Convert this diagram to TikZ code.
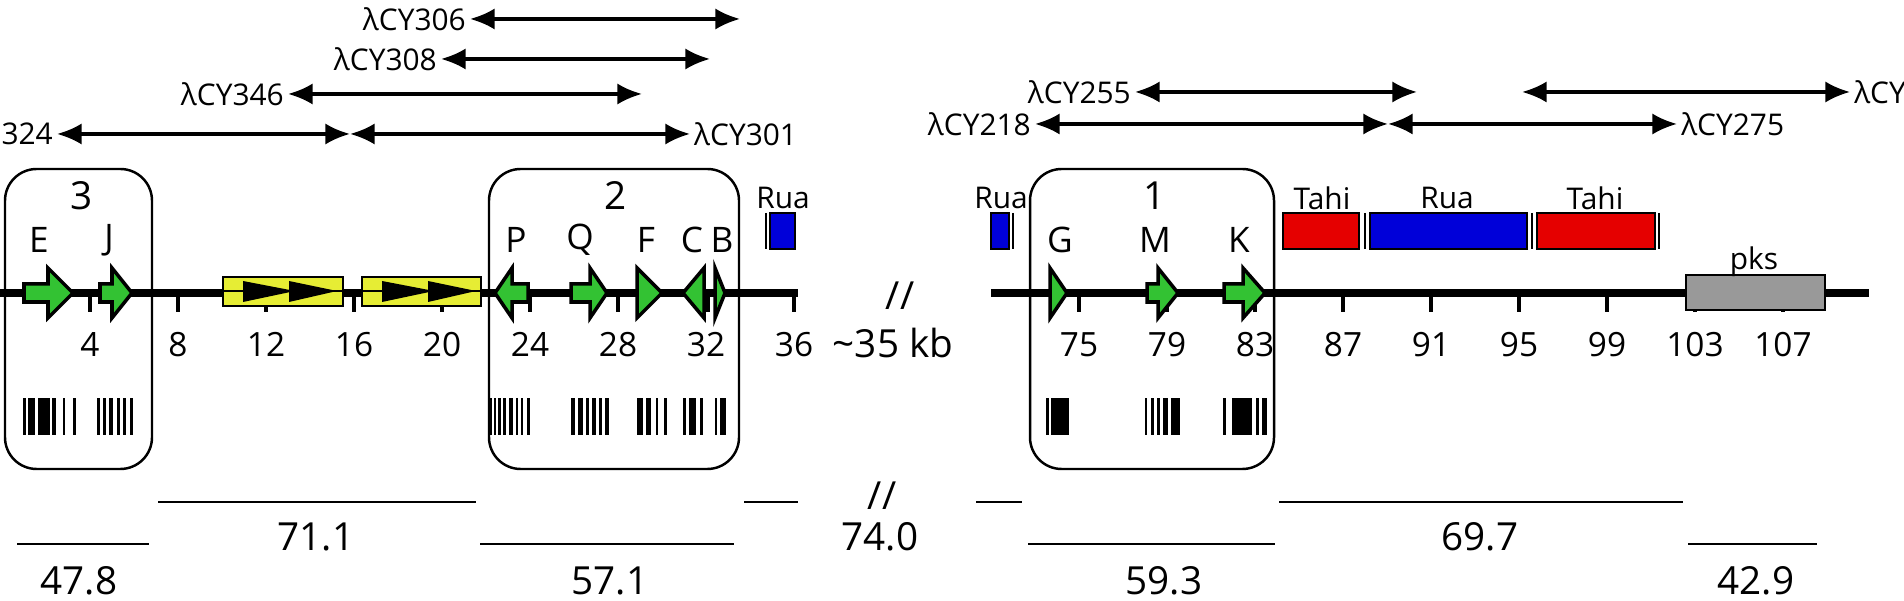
\documentclass[tikz,border=0pt]{standalone}
\usepackage{fontspec}
\setmainfont{Open Sans}
\usetikzlibrary{arrows.meta}
\begin{document}
\tikzset{
  gene/.style={draw=black, fill=green!70!black!80, line width=1pt, line join=miter},
  span/.style={{Latex[length=7pt,width=6pt]}-{Latex[length=7pt,width=6pt]}, line width=0.9pt},
  clone/.style={font=\fontsize{8.5}{9}\selectfont, inner sep=1pt},
  tick/.style={line width=1pt},
  kb/.style={font=\fontsize{9.5}{10}\selectfont, anchor=north},
  gname/.style={font=\fontsize{10}{11}\selectfont},
  block/.style={draw=black, line width=0.8pt},
  region/.style={draw=black, line width=0.7pt, rounded corners=9pt},
  ident/.style={line width=0.7pt},
  pct/.style={font=\fontsize{11}{12}\selectfont}
}
\newcommand{\gene}[3]{% start, head base, tip
  \draw[gene] (#1,284) -- (#2,284) -- (#2,268) -- (#3,293) -- (#2,318) -- (#2,302) -- (#1,302) -- cycle;}
\newcommand{\tri}[2]{\draw[gene] (#1,268) -- (#2,293) -- (#1,318) -- cycle;}
\newcommand{\bars}[1]{\foreach \x/\w in {#1} \fill (\x,398) rectangle ++(\w,37);}
\begin{tikzpicture}[x=0.01cm, y=-0.01cm]
  \useasboundingbox (0,0) rectangle (1904,601);

  % Clones
    \node[clone, anchor=east] (c306) at (470,19) {λCY306};
    \coordinate (e306) at (740,19);
    \draw[span] (c306) -- (e306);
    \node[clone, anchor=east] (c308) at (441,59) {λCY308};
    \coordinate (e308) at (710,59);
    \draw[span] (c308) -- (e308);
    \node[clone, anchor=east] (c346) at (288,94) {λCY346};
    \coordinate (e346) at (642,94);
    \draw[span] (c346) -- (e346);
    \node[clone, anchor=east] (c324) at (57,134) {324};
    \coordinate (m16) at (350,134);
    \node[clone, anchor=west] (c301) at (690,134) {λCY301};
    \draw[span] (c324) -- (m16);
    \draw[span] (m16) -- (c301);
    \node[clone, anchor=east] (c255) at (1135,92) {λCY255};
    \coordinate (e255) at (1417,92);
    \draw[span] (c255) -- (e255);
    \coordinate (s2xx) at (1522,92);
    \node[clone, anchor=west] (c2xx) at (1850,92) {λCY};
    \draw[span] (s2xx) -- (c2xx);
    \node[clone, anchor=east] (c218) at (1035,124) {λCY218};
    \coordinate (m88) at (1388,124);
    \node[clone, anchor=west] (c275) at (1677,124) {λCY275};
    \draw[span] (c218) -- (m88);
    \draw[span] (m88) -- (c275);

  % Regions
    \draw[region] (5,169) rectangle (152,469);
    \draw[region] (489,169) rectangle (739,469);
    \draw[region] (1030,169) rectangle (1274,469);
    \node[pct] (r3) at (82,196) {3};
    \node[pct] (r2) at (616,196) {2};
    \node[pct] (r1) at (1155,196) {1};

  % Backbone and ticks
    \draw[line width=2.2pt] (0,293) -- (798,293);
    \draw[line width=2.2pt] (991,293) -- (1869,293);
    \foreach \k in {4,8,...,36} {
      \draw[tick] ({22*\k+2},293) -- ({22*\k+2},312);
      \node[kb] at ({22*\k+2},320) {\k};
    }
    \foreach \k in {75,79,...,107} {
      \draw[tick] ({1255+22*(\k-83)},293) -- ({1255+22*(\k-83)},312);
      \node[kb] at ({1255+22*(\k-83)},320) {\k};
    }
    \draw[tick] (708,293) -- (708,312);
    \node[pct] (brk) at (900,296) {//};
    \node[pct] (gap) at (893,343) {\textasciitilde 35 kb};

  % Transposon blocks
    \foreach \a/\b in {223/343, 362/481} {
      \draw[block, fill=yellow!80!white!90!green] (\a,277) rectangle (\b,306);
      \draw[line width=0.5pt] (\a,291) -- (\b,291);
      \fill ({\a+20},281) -- ({\a+72},291) -- ({\a+20},302) -- cycle;
      \fill ({\a+66},281) -- ({\a+114},291) -- ({\a+66},302) -- cycle;
    }

  % Repeats
    \draw[block, fill=blue!85!black] (770,213) rectangle (795,249);
    \draw[line width=0.8pt] (766,213) -- (766,249);
    \draw[block, fill=blue!85!black] (991,213) rectangle (1009,249);
    \draw[line width=0.8pt] (1013,213) -- (1013,249);
    \draw[block, fill=red!90!black] (1283,213) rectangle (1359,249);
    \draw[line width=0.8pt] (1365,213) -- (1365,249);
    \draw[block, fill=blue!85!black] (1370,213) rectangle (1527,249);
    \draw[line width=0.8pt] (1532,213) -- (1532,249);
    \draw[block, fill=red!90!black] (1537,213) rectangle (1655,249);
    \draw[line width=0.8pt] (1659,213) -- (1659,249);
    \node[clone] (rua1) at (783,198) {Rua};
    \node[clone] (rua2) at (1001,198) {Rua};
    \node[clone] (tahi1) at (1322,198) {Tahi};
    \node[clone] (rua3) at (1447,198) {Rua};
    \node[clone] (tahi2) at (1595,198) {Tahi};
    \draw[block, fill=gray!80] (1686,275) rectangle (1825,310);
    \node[clone] (pks) at (1754,262) {pks};

  % Genes
    \gene{24}{48}{73}
    \gene{100}{112}{132}
    \gene{528}{512}{495}
    \gene{571}{590}{607}
    \tri{637}{662}
    \tri{704}{683}
    \tri{715}{725}
    \tri{1050}{1067}
    \gene{1147}{1158}{1178}
    \gene{1224}{1243}{1265}
    \foreach \g/\x in {E/39, J/109, P/516, Q/580, F/646, C/692, B/722, G/1060, M/1155, K/1239}
      \node[gname] (g\g) at (\x,240) {\g};

  % Bars
    \bars{23/3, 28/7, 38/12, 52/4, 63/2, 73/3}
    \bars{97/3, 103/3, 109/4, 117/3, 123/3, 130/3}
    \bars{490/2, 494/2, 498/3, 503/3, 509/4, 516/2, 521/2, 527/3}
    \bars{571/4, 578/5, 586/3, 592/4, 599/3, 605/4}
    \bars{637/6, 646/5, 656/2, 664/3}
    \bars{683/3, 689/7, 700/3}
    \bars{715/2, 720/6}
    \bars{1046/3, 1051/18}
    \bars{1145/2, 1151/3, 1157/3, 1163/5, 1171/9}
    \bars{1223/3, 1232/20, 1256/3, 1262/5}

  % Identity
    \draw[ident] (158,502) -- (476,502);
    \draw[ident] (744,502) -- (798,502);
    \draw[ident] (976,502) -- (1022,502);
    \draw[ident] (1279,502) -- (1683,502);
    \draw[ident] (17,544) -- (149,544);
    \draw[ident] (480,544) -- (734,544);
    \draw[ident] (1028,544) -- (1275,544);
    \draw[ident] (1688,544) -- (1817,544);
    \node[pct] (brk2) at (882,496) {//};
    \node[pct] (p711) at (316,537) {71.1};
    \node[pct] (p740) at (880,537) {74.0};
    \node[pct] (p697) at (1480,537) {69.7};
    \node[pct] (p478) at (79,581) {47.8};
    \node[pct] (p571) at (610,581) {57.1};
    \node[pct] (p593) at (1164,581) {59.3};
    \node[pct] (p429) at (1756,581) {42.9};
\end{tikzpicture}
\end{document}
